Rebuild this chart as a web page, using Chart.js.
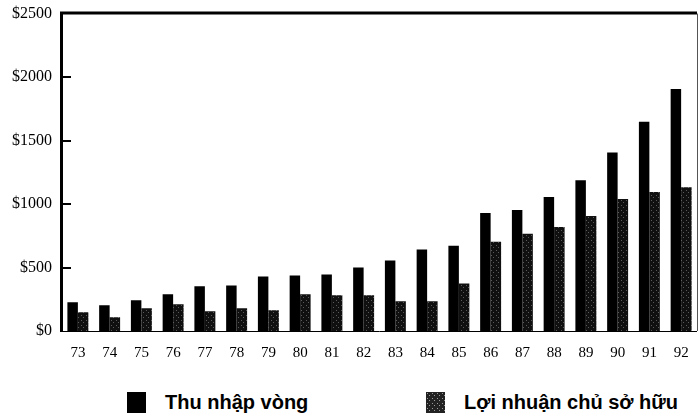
<!DOCTYPE html>
<html>
<head>
<meta charset="utf-8">
<script src="https://cdn.jsdelivr.net/npm/chart.js@4.4.0/dist/chart.umd.min.js"></script>
<style>
    html, body { margin: 0; padding: 0; background: #fff; }
    #wrap { position: relative; width: 700px; height: 416px; overflow: hidden; }
    #chartBox { position: absolute; left: 0; top: -6px; width: 700px; height: 376px; }
    .legend-item {
        position: absolute; top: 391px; height: 23px;
        display: flex; align-items: center; white-space: nowrap;
        font: bold 20px "Liberation Sans", Arial, sans-serif; color: #000;
    }
    .legend-item:nth-child(1) { left: 127px; }
    .legend-item:nth-child(2) { left: 426px; }
    .legend-swatch { width: 19px; height: 21px; margin-right: 19px; }
</style>
</head>
<body>
<div id="wrap">
    <div id="chartBox"><canvas id="incomeChart"></canvas></div>
    <div id="legend"></div>
</div>
<script>
// du lieu doc tu hinh goc
const years = ['73', '74', '75', '76', '77', '78', '79', '80', '81', '82',
               '83', '84', '85', '86', '87', '88', '89', '90', '91', '92'];
const seriesNames = ['Thu nhập vòng', 'Lợi nhuận chủ sở hữu'];
const revenue = [227, 203, 242, 289, 352, 359, 430, 438, 445, 500,
                 555, 641, 672, 930, 953, 1055, 1188, 1406, 1648, 1906];
const ownerProfit = [148, 109, 180, 211, 156, 180, 164, 289, 281, 281,
                     234, 234, 375, 703, 766, 820, 906, 1039, 1094, 1133];
const yTicks = [0, 500, 1000, 1500, 2000, 2500];

// hoa van cham cho cot thu hai
function makeSpeckle(base, dot) {
    const c = document.createElement('canvas');
    c.width = 5; c.height = 5;
    const g = c.getContext('2d');
    g.fillStyle = base;
    g.fillRect(0, 0, 5, 5);
    g.fillStyle = dot;
    g.fillRect(1, 1, 1, 1);
    g.fillRect(3, 3, 1, 1);
    return c;
}
const barSpeckle = makeSpeckle('#101010', '#5a5a5a');
const legendSpeckle = makeSpeckle('#222', '#9a9a9a');
const ctx = document.getElementById('incomeChart').getContext('2d');
const speckle = ctx.createPattern(barSpeckle, 'repeat');

// khung + vach chia huong vao trong
const framePlugin = {
    id: 'frame',
    afterDraw(chart) {
        const { ctx, chartArea: a, scales } = chart;
        ctx.save();
        ctx.strokeStyle = '#000';
        ctx.lineWidth = 3;
        ctx.beginPath();
        ctx.moveTo(a.left - 0.5, a.bottom + 1);
        ctx.lineTo(a.left - 0.5, a.top - 0.5);
        ctx.lineTo(a.right, a.top - 0.5);
        ctx.stroke();
        ctx.lineWidth = 1;
        ctx.beginPath();
        ctx.moveTo(a.left, a.bottom + 0.5);
        ctx.lineTo(a.right, a.bottom + 0.5);
        ctx.stroke();
        ctx.strokeStyle = '#555';
        ctx.beginPath();
        ctx.moveTo(a.right + 0.5, a.top);
        ctx.lineTo(a.right + 0.5, a.bottom);
        ctx.stroke();
        ctx.strokeStyle = '#000';
        ctx.lineWidth = 2;
        yTicks.forEach(v => {
            if (v === 0 || v === 2500) return;
            const y = Math.round(scales.y.getPixelForValue(v));
            ctx.beginPath();
            ctx.moveTo(a.left, y);
            ctx.lineTo(a.left + 9, y);
            ctx.stroke();
        });
        ctx.restore();
    }
};

const chart = new Chart(ctx, {
    type: 'bar',
    data: {
        labels: years,
        datasets: [
            { label: seriesNames[0], data: revenue, backgroundColor: '#000', borderWidth: 0 },
            { label: seriesNames[1], data: ownerProfit, backgroundColor: speckle, borderWidth: 0 }
        ]
    },
    options: {
        responsive: true,
        maintainAspectRatio: false,
        animation: false,
        layout: { padding: { top: 0, right: 3, bottom: 3, left: 0 } },
        datasets: { bar: { categoryPercentage: 0.66, barPercentage: 1.0 } },
        scales: {
            x: {
                grid: { display: false },
                border: { display: false },
                ticks: {
                    color: '#000', padding: 5, maxRotation: 0, autoSkip: false,
                    font: { family: '"Liberation Serif", "Times New Roman", serif', size: 15 }
                }
            },
            y: {
                min: 0, max: 2500,
                afterFit(scale) { scale.width = 62; },
                afterBuildTicks(scale) { scale.ticks = yTicks.map(v => ({ value: v })); },
                grid: { display: false, drawTicks: false },
                border: { display: false },
                ticks: {
                    color: '#000', padding: 10,
                    font: { family: '"Liberation Serif", "Times New Roman", serif', size: 16 },
                    callback: v => '$' + v
                }
            }
        },
        plugins: {
            legend: { display: false },
            tooltip: { enabled: false }
        }
    },
    plugins: [framePlugin]
});

// chu giai dang HTML
const legendEl = document.getElementById('legend');
chart.data.datasets.forEach((ds, i) => {
    const item = document.createElement('div');
    item.className = 'legend-item';
    const sw = document.createElement('span');
    sw.className = 'legend-swatch';
    sw.style.background = i === 0 ? '#000' : 'url(' + legendSpeckle.toDataURL() + ')';
    const txt = document.createElement('span');
    txt.textContent = ds.label;
    item.appendChild(sw);
    item.appendChild(txt);
    legendEl.appendChild(item);
});
</script>
</body>
</html>
